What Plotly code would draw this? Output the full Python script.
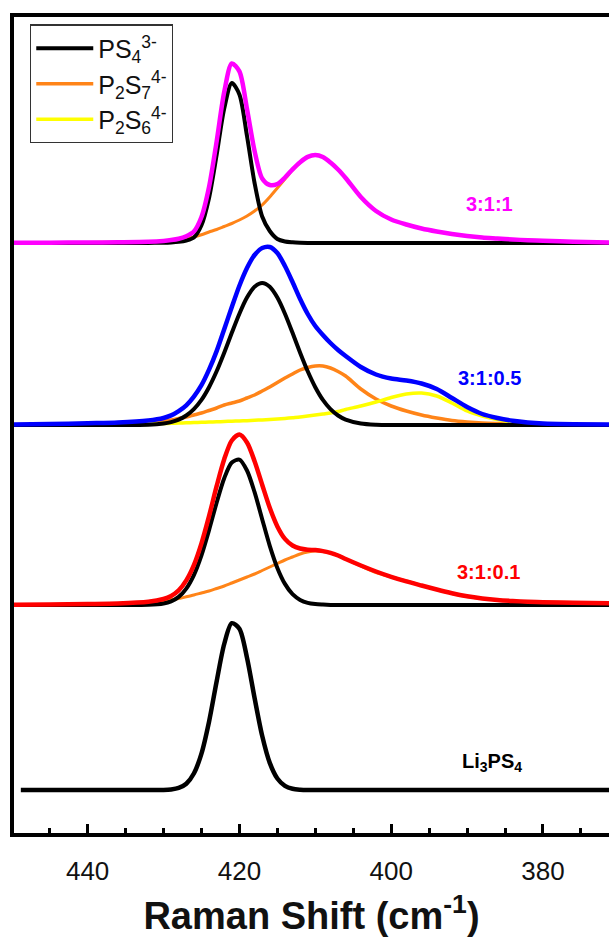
import plotly.graph_objects as go

# ---------------- data (Raman shift in cm^-1, intensity in a.u.) ----------------
X = [450, 445, 440, 436, 432,
     430, 429, 428, 427, 426, 425, 424, 423, 422, 421, 420, 419, 418, 417, 416,
     415, 414, 413, 412, 411, 410, 409, 408, 407, 406,
     404, 402, 400, 398, 396, 394, 392, 390, 388, 386, 384, 382, 380,
     376, 371]
X_LI = [448.8] + X[1:]

# Li3PS4
LI3PS4 = [0, 0, 0, 0, 0,
          0.1, 0.6, 2.1, 6.3, 16.5, 36.4, 68.3, 108.5, 146, 166.8, 161.3, 132.3, 92, 54.2, 27.1,
          11.5, 4.1, 1.2, 0.3, 0, 0, 0, 0, 0, 0,
          0, 0, 0, 0, 0, 0, 0, 0, 0, 0, 0, 0, 0,
          0, 0]

# 3:1:0.1
S01_PS4 = [0, 0, 0, 0, 0.2,
           1.5, 3.6, 8.1, 16.4, 29.9, 49.7, 74.9, 102.3, 126.8, 142.5, 145.4, 134.5, 112.8, 85.8, 59.2,
           37.1, 21.1, 10.8, 5.1, 2.1, 0.9, 0.4, 0.1, 0, 0,
           0, 0, 0, 0, 0, 0, 0, 0, 0, 0, 0, 0, 0,
           0, 0]
S01_P2S7 = [0.3, 0.6, 1, 1.5, 3,
            4.5, 5.4, 6.5, 8.2, 10, 12, 14, 16.5, 19, 22, 25, 28, 31, 34.5, 38,
            41.5, 45, 48, 51, 53, 54, 53.5, 52, 49.5, 46,
            39, 32.5, 28, 24, 19.5, 15.5, 11.5, 8.5, 6.5, 5, 4, 3.5, 3,
            2.5, 2]
S01_TOTAL = [0.3, 0.6, 1, 1.5, 3.2,
             6, 9, 14.6, 24.6, 39.9, 61.7, 88.9, 118.8, 145.8, 164.5, 170.4, 162.5, 143.8, 120.3, 97.2,
             78.6, 66.1, 59.5, 56.5, 55.3, 54.9, 53.9, 52.1, 49.5, 46,
             39.5, 33.5, 28.2, 23.6, 19.5, 15.5, 11.8, 8.8, 6.6, 5, 4, 3.3, 2.8,
             2.3, 1.8]

# 3:1:0.5
S05_PS4 = [0, 0, 0, 0, 0.3,
           1.5, 2.9, 5.4, 9.5, 15.9, 25.1, 37.8, 53.7, 72.3, 92.2, 111.3, 127.4, 138.2, 142, 138.2,
           127.4, 111.3, 92.2, 72.3, 53.7, 37.8, 25.1, 15.9, 9.5, 5.4,
           1.5, 0.3, 0, 0, 0, 0, 0, 0, 0, 0, 0, 0, 0,
           0, 0]
S05_P2S7 = [0.3, 0.5, 1, 1.5, 3,
            4, 5, 6.5, 8, 10, 12, 14.5, 17, 20, 22, 24, 27, 30, 34, 38,
            42.5, 47, 51, 55, 57.5, 59, 59, 57, 53.5, 49,
            36, 26, 19, 14, 10, 7, 4.5, 3, 2, 1.5, 1.2, 1, 0.7,
            0.5, 0.3]
S05_P2S6 = [0.3, 0.5, 0.8, 1, 1.2,
            1.5, 1.7, 2, 2.2, 2.5, 2.7, 3, 3.2, 3.5, 3.8, 4, 4.3, 4.7, 5.1, 5.5,
            6, 6.6, 7.3, 8, 9, 10, 11, 12, 13.5, 15.5,
            19, 23, 27.5, 31, 32, 29, 22, 14, 9, 5.5, 3, 1.5, 0.8,
            0.3, 0.1]
S05_TOTAL = [0.6, 1, 1.8, 2.5, 4.5,
             7, 9.6, 13.9, 19.7, 28.4, 39.8, 55.3, 73.9, 95.8, 118, 139.3, 157, 170, 177, 178,
             172, 159, 143, 126, 111, 99, 90, 82, 75, 69,
             58, 50.5, 46.5, 44.5, 41.5, 36, 27, 18, 11, 7, 4.2, 2.5, 1.5,
             0.8, 0.4]

# 3:1:1
S11_PS4 = [0, 0, 0, 0, 0.1,
           0.3, 0.6, 1.2, 2.5, 5.5, 17.7, 45, 88, 134.5, 160, 148.6, 107, 60, 26.5, 12,
           4, 1.5, 0.7, 0.3, 0.1, 0, 0, 0, 0, 0,
           0, 0, 0, 0, 0, 0, 0, 0, 0, 0, 0, 0, 0,
           0, 0]
S11_P2S7 = [0.2, 0.3, 0.5, 0.8, 1.2,
            1.8, 2.3, 3, 4.3, 6, 8.3, 11, 13.5, 16.5, 19.5, 23, 27, 32, 38, 46,
            55, 64, 73, 80.5, 86, 88, 86, 80.5, 73.5, 65,
            46, 32, 23.5, 18.5, 14.5, 11.5, 9, 7, 5.5, 4.5, 3.5, 2.8, 2.2,
            1.3, 0.5]
S11_TOTAL = [0.2, 0.3, 0.5, 0.8, 1.3,
             2.1, 2.9, 4.2, 6.8, 11.5, 26, 56, 101.5, 151, 179.5, 171.6, 134, 92, 64.5, 58,
             59, 65.5, 73.7, 80.8, 86.1, 88, 86, 80.5, 73.5, 65,
             46, 32, 23.5, 18.5, 14.5, 11.5, 9, 7, 5.5, 4.5, 3.5, 2.8, 2.2,
             1.3, 0.5]

# vertical stacking offsets of the spectra (a.u.)
SAMPLES = ["Li<sub>3</sub>PS<sub>4</sub>", "3:1:0.1", "3:1:0.5", "3:1:1"]
OFFSETS = [43, 228, 408, 590]

LEGEND_NAMES = ["PS<sub>4</sub><sup>3-</sup>",
                "P<sub>2</sub>S<sub>7</sub><sup>4-</sup>",
                "P<sub>2</sub>S<sub>6</sub><sup>4-</sup>"]

BLACK = "#000000"
ORANGE = "#FF8418"
YELLOW = "#FFFF00"
RED = "#FF0000"
BLUE = "#0000FF"
MAGENTA = "#FF00FF"

FONT = "Arial, 'Liberation Sans', Helvetica, sans-serif"

fig = go.Figure()


def add(x, y, off, color, width, name=None, show=False, rank=None):
    fig.add_trace(go.Scatter(
        x=x, y=[off + v for v in y], mode="lines",
        line=dict(color=color, width=width, shape="spline", smoothing=0.8),
        name=name, showlegend=show, legendrank=rank, hoverinfo="skip"))


# Li3PS4
add(X_LI, LI3PS4, OFFSETS[0], BLACK, 4.5)
# 3:1:0.1
add(X, S01_P2S7, OFFSETS[1], ORANGE, 3)
add(X, S01_PS4, OFFSETS[1], BLACK, 4)
add(X, S01_TOTAL, OFFSETS[1], RED, 4.5)
# 3:1:0.5
add(X, S05_P2S7, OFFSETS[2], ORANGE, 3.5, LEGEND_NAMES[1], True, 2)
add(X, S05_P2S6, OFFSETS[2], YELLOW, 3.5, LEGEND_NAMES[2], True, 3)
add(X, S05_PS4, OFFSETS[2], BLACK, 4, LEGEND_NAMES[0], True, 1)
add(X, S05_TOTAL, OFFSETS[2], BLUE, 4.5)
# 3:1:1
add(X, S11_P2S7, OFFSETS[3], ORANGE, 3)
add(X, S11_PS4, OFFSETS[3], BLACK, 4)
add(X, S11_TOTAL, OFFSETS[3], MAGENTA, 4.5)

# sample labels
label_specs = [
    (SAMPLES[0], 386.7, OFFSETS[0] + 28, BLACK),
    (SAMPLES[1], 387.2, OFFSETS[1] + 33, RED),
    (SAMPLES[2], 387.0, OFFSETS[2] + 47, BLUE),
    (SAMPLES[3], 387.0, OFFSETS[3] + 39, MAGENTA),
]
for txt, lx, ly, col in label_specs:
    fig.add_annotation(x=lx, y=ly, xref="x", yref="y", text="<b>" + txt + "</b>",
                       showarrow=False, font=dict(family=FONT, size=20, color=col))

fig.update_layout(
    width=609, height=943,
    margin=dict(l=14, r=0, t=17, b=110),
    paper_bgcolor="white", plot_bgcolor="white",
    font=dict(family=FONT, color="#111111"),
    showlegend=True,
    legend=dict(x=0.027, y=0.991, xanchor="left", yanchor="top",
                bordercolor="#333333", borderwidth=1.2, bgcolor="white",
                font=dict(family=FONT, size=25, color="#111111"),
                itemwidth=57,
                tracegroupgap=0, traceorder="normal"),
    xaxis=dict(range=[449.7, 371.3], showline=True, linewidth=4, linecolor="black",
               mirror=True, ticks="inside", ticklen=9, tickwidth=2.5, tickcolor="black",
               tick0=0, dtick=20, showgrid=False, zeroline=False,
               tickfont=dict(family=FONT, size=26, color="#111111"),
               ticklabelstandoff=12,
               minor=dict(tick0=0, dtick=5, ticks="inside", ticklen=5, tickwidth=2.5,
                          tickcolor="black", showgrid=False),
               title=dict(text="<b>Raman Shift (cm<sup>-1</sup>)</b>",
                          font=dict(family=FONT, size=38, color="#111111"), standoff=18)),
    yaxis=dict(range=[0, 816], showline=True, linewidth=4, linecolor="black",
               mirror=False, ticks="", showticklabels=False, showgrid=False,
               zeroline=False),
)

fig.write_html("out.html")
